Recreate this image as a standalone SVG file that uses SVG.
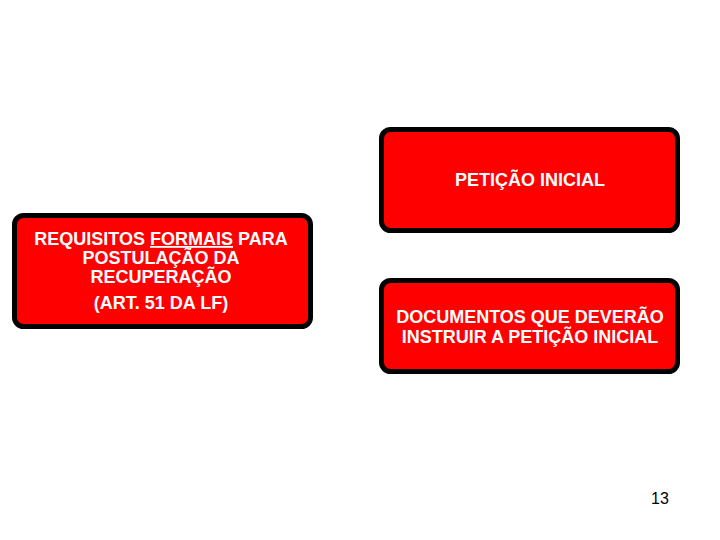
<svg xmlns="http://www.w3.org/2000/svg" width="720" height="540" viewBox="0 0 720 540">
<style>
.box{fill:#ff0000;stroke:#000;stroke-width:5}
.t{font-family:"Liberation Sans",Arial,sans-serif;font-weight:bold;font-size:18px;fill:#fff;text-anchor:middle}
.pg{font-family:"Liberation Sans",Arial,sans-serif;font-size:16px;fill:#000;text-anchor:middle}
</style>
<rect width="720" height="540" fill="#fff"/>
<g id="peticao">
<rect class="box" x="381.500" y="129.500" width="296" height="101" rx="9"/>
<text class="t" x="530" y="186">PETIÇÃO INICIAL</text>
</g>
<g id="requisitos">
<rect class="box" x="14.500" y="215.500" width="296" height="111" rx="9"/>
<text class="t" x="161" y="245">REQUISITOS <tspan text-decoration="underline">FORMAIS</tspan> PARA</text>
<text class="t" x="161" y="264">POSTULAÇÃO DA</text>
<text class="t" x="161" y="283">RECUPERAÇÃO</text>
<text class="t" x="161" y="309">(ART. 51 DA LF)</text>
</g>
<g id="documentos">
<rect class="box" x="381.500" y="280.500" width="296" height="91" rx="9"/>
<text class="t" x="530" y="323">DOCUMENTOS QUE DEVERÃO</text>
<text class="t" x="530" y="343">INSTRUIR A PETIÇÃO INICIAL</text>
</g>
<g id="connectors"></g>
<text class="pg" x="660" y="504">13</text>
</svg>
